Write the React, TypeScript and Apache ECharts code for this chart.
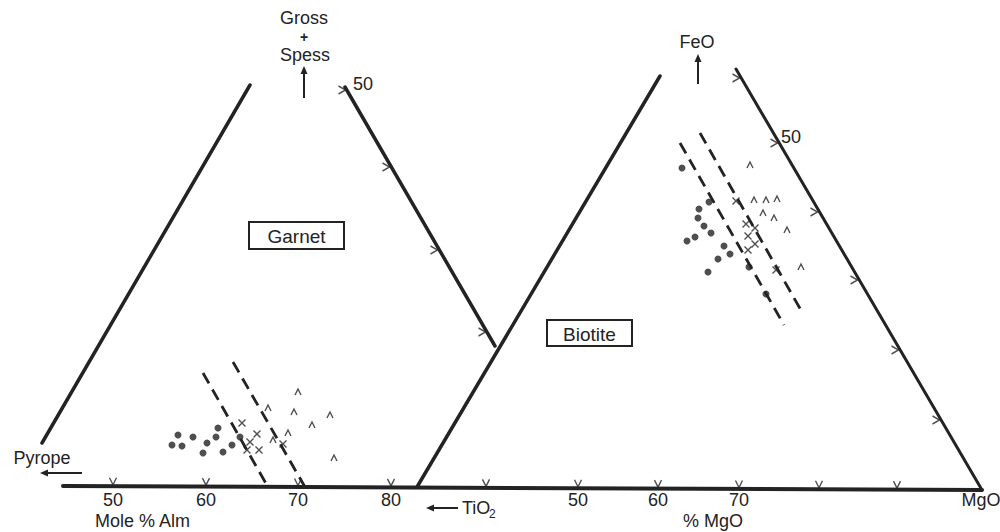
import React, { useEffect, useRef } from "react";
import * as echarts from "echarts";

// Diagram frame (image units): x 0..1000, y 0..532 (y grows downward)
const INK = "#232323";

// Triangle edges
const garnetLeftEdge = [[42, 443], [250, 85]];
const garnetRightEdge = [[345, 87], [495, 346]];
const baseLine = [[63, 486], [982, 490]];
const biotiteLeftEdge = [[417, 487], [660, 76]];
const biotiteRightEdge = [[736, 69], [982, 490]];

// Dashed boundaries
const garnetDashA = [[203, 373], [268, 487]];
const garnetDashB = [[233, 362], [305, 487]];
const biotiteDashA = [[680, 143], [784, 325]];
const biotiteDashB = [[700, 133], [802, 312]];

// Side ticks (points on the edges)
const garnetSideTicks = [[347, 90], [391, 167], [439, 250], [487, 332]];
const biotiteSideTicks = [[741, 78], [779, 143], [819, 212], [859, 280], [900, 350], [941, 420]];

// Base ticks (x positions)
const garnetBaseTicks = [113, 206, 298, 391];
const biotiteBaseTicks = [486, 578, 658, 739, 819, 897];
const garnetTickLabels = ["50", "60", "70", "80"];
const biotiteTickLabels = ["50", "60", "70"];
const biotiteLabelTicks = [578, 658, 739];

// Garnet samples
const garnetDots = [[178, 435], [172, 445], [182, 446], [193, 437], [218, 428], [216, 437], [207, 443], [203, 453], [223, 452], [232, 445], [240, 437]];
const garnetCrosses = [[242, 423], [257, 434], [250, 442], [247, 450], [259, 450], [283, 444]];
const garnetCarets = [[298, 392], [268, 408], [294, 412], [330, 415], [312, 425], [288, 433], [273, 440], [334, 458]];

// Biotite samples
const biotiteDots = [[682, 168], [709, 202], [699, 209], [698, 218], [704, 226], [711, 233], [695, 237], [687, 241], [724, 246], [730, 254], [718, 259], [708, 272], [749, 267], [766, 294]];
const biotiteCrosses = [[736, 201], [746, 224], [755, 228], [748, 236], [755, 244], [748, 250], [776, 270]];
const biotiteCarets = [[750, 165], [754, 200], [766, 200], [777, 199], [763, 213], [774, 218], [787, 230], [801, 267]];

const baseY = (x: number) => baseLine[0][1] + ((x - baseLine[0][0]) * (baseLine[1][1] - baseLine[0][1])) / (baseLine[1][0] - baseLine[0][0]);

const FONT = "'Liberation Sans', Arial, Helvetica, sans-serif";

function solid(data: number[][], width = 3.5) {
  return {
    type: "line",
    data,
    symbol: "none",
    silent: true,
    lineStyle: { color: INK, width, cap: "round" },
  };
}
function dashed(data: number[][]) {
  return {
    type: "line",
    data,
    symbol: "none",
    silent: true,
    lineStyle: { color: INK, width: 2.8, type: [12, 7] },
  };
}
function marks(data: number[][], symbol: string, size: number | number[], offset: number[] = [0, 0], filled = false) {
  return {
    type: "scatter",
    data,
    symbol,
    symbolSize: size,
    symbolOffset: offset,
    silent: true,
    itemStyle: filled
      ? { color: INK }
      : { color: "transparent", borderColor: INK, borderWidth: 1.4 },
  };
}

const chevronRight = "path://M0,0L10,5L0,10";
const chevronDown = "path://M0,0L5,10L10,0";
const caretUp = "path://M0,10L5,0L10,10";
const crossPath = "path://M0,0L10,10M10,0L0,10";

function txt(text: string, x: number, y: number, size = 18, align = "center", weight = "normal") {
  return {
    type: "text",
    x,
    y,
    silent: true,
    style: {
      text,
      fill: INK,
      font: `${weight} ${size}px ${FONT}`,
      textAlign: align,
      textVerticalAlign: "middle",
    },
  };
}
function arrow(x1: number, y1: number, x2: number, y2: number) {
  const dx = x2 - x1, dy = y2 - y1;
  const len = Math.hypot(dx, dy);
  const ux = dx / len, uy = dy / len;
  const hl = 8, hw = 3.5;
  const bx = x2 - ux * hl, by = y2 - uy * hl;
  return [
    { type: "line", silent: true, shape: { x1, y1, x2: bx, y2: by }, style: { stroke: INK, lineWidth: 2 } },
    {
      type: "polygon",
      silent: true,
      shape: { points: [[x2, y2], [bx - uy * hw, by + ux * hw], [bx + uy * hw, by - ux * hw]] },
      style: { fill: INK },
    },
  ];
}
function box(label: string, x: number, y: number, w: number, h: number) {
  return [
    { type: "rect", silent: true, shape: { x, y, width: w, height: h }, style: { fill: "#fff", stroke: INK, lineWidth: 2 } },
    txt(label, x + w / 2, y + h / 2 + 1, 19),
  ];
}

export default function App() {
  const ref = useRef<HTMLDivElement>(null);
  useEffect(() => {
    if (!ref.current) return;
    const chart = echarts.init(ref.current, null, { renderer: "svg" });
    const graphic: any[] = [
      txt("Gross", 304, 18),
      txt("+", 304, 37, 14, "center", "bold"),
      txt("Spess", 305, 55),
      ...arrow(304, 98, 304, 66),
      txt("50", 363, 84),
      txt("FeO", 697, 42),
      ...arrow(698, 84, 698, 54),
      txt("50", 791, 137),
      txt("Pyrope", 42, 458),
      ...arrow(82, 473, 40, 473),
      ...garnetTickLabels.map((t, i) => txt(t, garnetBaseTicks[i], 500)),
      txt("Mole % Alm", 95, 521, 18, "left"),
      ...arrow(458, 508, 426, 508),
      txt("TiO", 462, 508, 18, "left"),
      txt("2", 489, 514, 12, "left"),
      ...biotiteTickLabels.map((t, i) => txt(t, biotiteLabelTicks[i], 500)),
      txt("% MgO", 713, 521),
      txt("MgO", 981, 500),
      ...box("Garnet", 249, 222, 95, 27),
      ...box("Biotite", 547, 320, 85, 26),
    ];
    chart.setOption({
      animation: false,
      backgroundColor: "#fff",
      grid: { left: 0, right: 0, top: 0, bottom: 0 },
      xAxis: { type: "value", min: 0, max: 1000, show: false },
      yAxis: { type: "value", min: 0, max: 532, inverse: true, show: false },
      series: [
        solid(garnetLeftEdge),
        solid(garnetRightEdge),
        solid(baseLine, 4),
        solid(biotiteLeftEdge),
        solid(biotiteRightEdge, 3),
        dashed(garnetDashA),
        dashed(garnetDashB),
        dashed(biotiteDashA),
        dashed(biotiteDashB),
        marks(garnetSideTicks, chevronRight, [7, 8], [-5, 0]),
        marks(biotiteSideTicks, chevronRight, [7, 8], [-5, 0]),
        marks(garnetBaseTicks.map((x) => [x, baseY(x)]), chevronDown, [7, 7], [0, -5]),
        marks(biotiteBaseTicks.map((x) => [x, baseY(x)]), chevronDown, [7, 7], [0, -5]),
        marks(garnetDots, "circle", 7, [0, 0], true),
        marks(biotiteDots, "circle", 7, [0, 0], true),
        marks(garnetCrosses, crossPath, 7),
        marks(biotiteCrosses, crossPath, 7),
        marks(garnetCarets, caretUp, [6, 6]),
        marks(biotiteCarets, caretUp, [6, 6]),
      ],
      graphic,
    });
    return () => chart.dispose();
  }, []);
  return (
    <div
      ref={ref}
      style={{ position: "fixed", left: 0, top: 0, width: 1000, height: 532, background: "#fff" }}
    />
  );
}
